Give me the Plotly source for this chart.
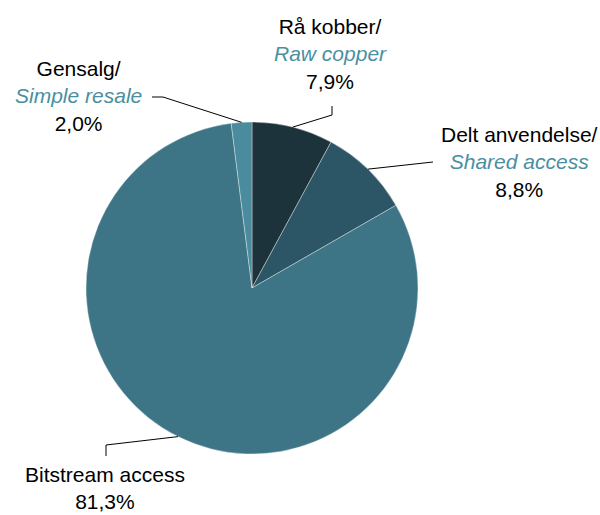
import math
import plotly.graph_objects as go

# data
labels_no = ["Rå kobber/", "Delt anvendelse/", "", "Gensalg/"]
labels_en = ["Raw copper", "Shared access", "Bitstream access", "Simple resale"]
values = [7.9, 8.8, 81.3, 2.0]
colors = ["#1c333b", "#2c5665", "#3d7586", "#4a8b9d"]

W, H = 600, 515
cx, cy, r = 252, 288, 166  # pie centre / radius in pixels


def px(x):
    return x / W


def py(y):
    return 1 - y / H


fig = go.Figure()
fig.add_trace(go.Pie(
    values=values,
    labels=labels_en,
    sort=False,
    direction="clockwise",
    rotation=0,
    textinfo="none",
    hoverinfo="label+percent",
    marker=dict(colors=colors, line=dict(color="rgba(255,255,255,0.45)", width=0.8)),
    domain=dict(x=[px(cx - r), px(cx + r)], y=[py(cy + r), py(cy - r)]),
    showlegend=False,
))

# where each label sits (pixels) and the leader-line bends
label_pos = [(330, 54), (519, 162), (105, 488), (78, 96)]
bends = [[(332, 115), (332, 106)], [(433, 162)], [(106, 445), (106, 456)], [(163, 97), (152, 97)]]

total = sum(values)
start = 0.0
shapes = []
annotations = []
for i, v in enumerate(values):
    mid = (start + v / 2) / total * 2 * math.pi
    start += v
    ex = cx + r * math.sin(mid)
    ey = cy - r * math.cos(mid)
    pts = [(ex, ey)] + bends[i]
    path = "M " + " L ".join(f"{px(a)},{py(b)}" for a, b in pts)
    shapes.append(dict(type="path", path=path, xref="paper", yref="paper",
                       line=dict(color="black", width=1)))
    pct = f"{v:.1f}%".replace(".", ",")
    if labels_no[i]:
        txt = (f"{labels_no[i]}<br><span style='color:#4a8fa1'><i>{labels_en[i]}</i></span>"
               f"<br>{pct}")
    else:
        txt = f"{labels_en[i]}<br>{pct}"
    lx, ly = label_pos[i]
    annotations.append(dict(x=px(lx), y=py(ly), xref="paper", yref="paper",
                            text=txt, showarrow=False, align="center",
                            xanchor="center", yanchor="middle",
                            font=dict(size=21, color="black")))

fig.update_layout(
    width=W, height=H,
    margin=dict(l=0, r=0, t=0, b=0),
    paper_bgcolor="white",
    plot_bgcolor="white",
    font=dict(family="Liberation Sans, Arial, sans-serif", size=21),
    shapes=shapes,
    annotations=annotations,
)

# drop the default page margin so the figure sits at the window's corner
fig.write_html("out.html", config={"displayModeBar": False},
               post_script="document.body.style.margin='0';")
